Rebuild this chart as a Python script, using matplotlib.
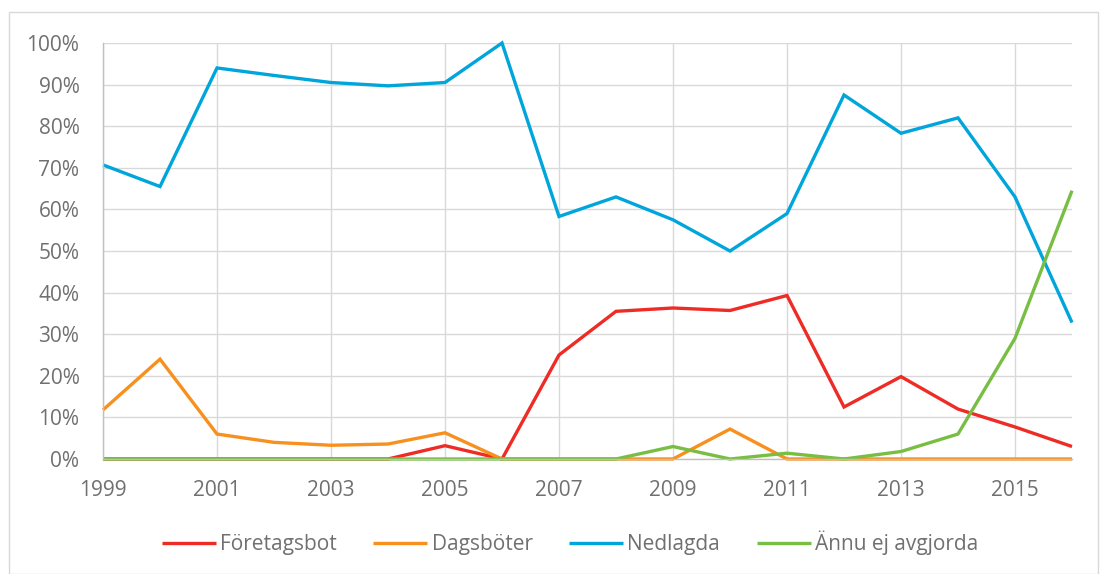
import matplotlib
matplotlib.use("Agg")
import matplotlib.pyplot as plt
from matplotlib.ticker import FuncFormatter, MultipleLocator
from matplotlib.patches import Rectangle

years = list(range(1999, 2017))
xtick_years = list(range(1999, 2016, 2))
foretagsbot = [0, 0, 0, 0, 0, 0, 3.2, 0, 25, 35.5, 36.3, 35.7, 39.3, 12.5, 19.8, 12, 7.7, 3]
dagsboter = [11.8, 24, 6, 4, 3.3, 3.6, 6.3, 0, 0, 0, 0, 7.2, 0, 0, 0, 0, 0, 0]
nedlagda = [70.7, 65.5, 94, 92.2, 90.5, 89.7, 90.5, 100, 58.3, 63, 57.5, 50, 59, 87.5, 78.3, 82, 63, 32.8]
annu = [0, 0, 0, 0, 0, 0, 0, 0, 0, 0, 3, 0, 1.4, 0, 1.8, 6, 29, 64.5]

labels = ["Företagsbot", "Dagsböter", "Nedlagda", "Ännu ej avgjorda"]
colors = ["#EE2B24", "#F7901E", "#00A5DB", "#78BE43"]
series = [foretagsbot, dagsboter, nedlagda, annu]

plt.rcParams['font.family'] = ['Open Sans', 'DejaVu Sans']
text_color = "#707070"

fig = plt.figure(figsize=(11.11, 5.74), dpi=100)
ax = fig.add_axes([103/1111, 1 - 459/574, (1072-103)/1111, (459-43)/574])

for s, c, l in zip(series, colors, labels):
    ax.plot(years, s, color=c, lw=2.4, label=l, solid_capstyle='butt', solid_joinstyle='miter', clip_on=False)

ax.set_xlim(1999, 2016)
ax.set_ylim(0, 100)
ax.set_xticks(xtick_years)
ax.set_xticklabels([str(y) for y in xtick_years])
ax.yaxis.set_major_locator(MultipleLocator(10))
ax.yaxis.set_major_formatter(FuncFormatter(lambda v, p: f"{int(v)}%"))
ax.grid(True, color="#D9D9D9", lw=1.0)
ax.set_axisbelow(True)
for sp in ["top", "right"]:
    ax.spines[sp].set_visible(False)
for sp in ["left", "bottom"]:
    ax.spines[sp].set_color("#BFBFBF")
    ax.spines[sp].set_linewidth(1.0)
ax.tick_params(length=0, labelsize=15, colors=text_color)
ax.tick_params(axis='y', pad=17)
ax.tick_params(axis='x', pad=15)

leg = fig.legend(loc="center", bbox_to_anchor=(570/1111, 1 - 543/574), ncol=4, frameon=False,
                 fontsize=15, handlelength=2.6, columnspacing=1.75, handletextpad=0.2)
for t in leg.get_texts():
    t.set_color(text_color)

fig.patches.append(Rectangle((9/1111, 0), (1098-9)/1111, 1 - 12/574, transform=fig.transFigure,
                             fill=False, edgecolor="#D9D9D9", lw=1.0))

fig.savefig("out.png", dpi=100, facecolor="white")
